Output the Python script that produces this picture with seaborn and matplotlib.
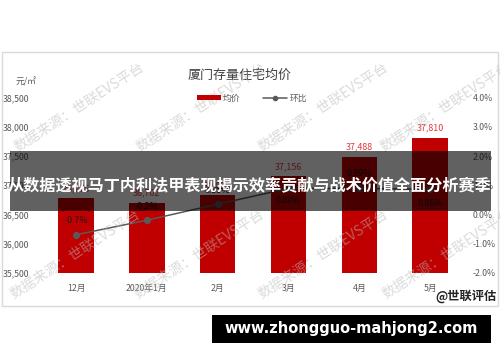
import matplotlib
matplotlib.use("Agg")
import matplotlib.pyplot as plt
from matplotlib.patches import Rectangle, Patch
from matplotlib.lines import Line2D
import seaborn as sns

months = ["12月", "2020年1月", "2月", "3月", "4月", "5月"]
price = [36776, 36702, 36828, 37156, 37488, 37810]
mom = [-0.7, -0.2, 0.35, 0.89, 0.89, 0.86]
left_ticks = [35500, 36000, 36500, 37000, 37500, 38000, 38500]
right_ticks = [-2, -1, 0, 1, 2, 3, 4]
title = "厦门存量住宅均价"
unit = "元/㎡"
legend_labels = ["均价", "环比"]
watermark = "数据来源：世联EVS平台"
banner = "从数据透视马丁内利法甲表现揭示效率贡献与战术价值全面分析赛季"
brand = "@世联评估"
url = "www.zhongguo-mahjong2.com"

sns.set_theme(style="white")
plt.rcParams["font.family"] = ["Noto Sans CJK SC", "DejaVu Sans"]

W, H = 500, 362
def fx(px):
    return px / W
def fy(py):
    return 1 - py / H

BAR = "#c00000"
LINE = "#595959"
TICK = "#595959"

fig = plt.figure(figsize=(5, 3.62), dpi=100)
fig.patch.set_facecolor("white")
ax = fig.add_axes([fx(40.6), fy(272.7), fx(465.6) - fx(40.6), fy(97.7) - fy(272.7)])

sns.barplot(x=months, y=price, ax=ax, color=BAR, width=0.5, saturation=1, edgecolor="none")
ax.set_ylim(35500, 38500)
ax.set_yticks(left_ticks)
ax.set_yticklabels([f"{v:,}" for v in left_ticks])
ax.set_xlim(-0.5, len(months) - 0.5)
for s in ax.spines.values():
    s.set_visible(False)
ax.tick_params(axis="both", length=0, labelsize=6.3, labelcolor=TICK)
ax.tick_params(axis="y", pad=8.3)
ax.tick_params(axis="x", pad=8)
ax.set_xlabel("")
ax.set_ylabel("")
ax.grid(False)

for i, v in enumerate(price):
    ax.annotate(f"{v:,}", (i, v), xytext=(0, 7), textcoords="offset points",
                ha="center", va="center", fontsize=6.4, color="#e0393a")

ax2 = ax.twinx()
sns.pointplot(x=months, y=mom, ax=ax2, color=LINE, markers="o", markersize=4.3,
              linewidth=1.1, errorbar=None)
ax2.set_ylim(-2, 4)
ax2.set_yticks(right_ticks)
ax2.set_yticklabels([f"{v:.1f}%" for v in right_ticks])
ax2.set_xlim(-0.5, len(months) - 0.5)
for s in ax2.spines.values():
    s.set_visible(False)
ax2.tick_params(axis="both", length=0, labelsize=6.3, labelcolor=TICK)
ax2.tick_params(axis="y", pad=5.3)
ax2.set_xlabel("")
ax2.set_ylabel("")
ax2.grid(False)

offsets = [10, 10, 10, -9, 10.5, -10.5]
for i, v in enumerate(mom):
    ax2.annotate(f"{v:g}%", (i, v), xytext=(0, offsets[i]), textcoords="offset points",
                 ha="center", va="center", fontsize=6.4, color="#1a1a1a")

# title, unit, legend
fig.text(fx(240), fy(75.7), title, ha="center", va="center", fontsize=9.4, color="#404040")
fig.text(fx(16), fy(82), unit, ha="left", va="center", fontsize=6.3, color=TICK)
handles = [Patch(facecolor=BAR, edgecolor="none"),
           Line2D([], [], color=LINE, marker="o", markersize=3, lw=1.1)]
fig.legend(handles, legend_labels, loc="center", bbox_to_anchor=(fx(252), fy(98.3)),
           ncol=2, frameon=False, fontsize=6.3, handlelength=2.7, handleheight=0.6,
           handletextpad=0.3, columnspacing=2.6, labelcolor=TICK)

# outer frame
fig.patches.append(Rectangle((fx(2), fy(306)), fx(496), 254 / H, transform=fig.transFigure,
                             fill=False, edgecolor="#d9d9d9", lw=1, zorder=1))

# watermarks
wm_pos = [(18, 152), (140, 152), (262, 152), (384, 152),
          (14, 299), (138, 299), (262, 299), (386, 299)]
for (x, y) in wm_pos:
    fig.text(fx(x), fy(y), watermark, rotation=33, rotation_mode="anchor",
             ha="left", va="baseline", fontsize=10.2, color="#b8b8b8", alpha=0.5, zorder=5)

fig.text(fx(497), fy(296), brand, ha="right", va="center", fontsize=8.8,
         fontweight="bold", color="#222222", zorder=6)

# overlay banner
fig.patches.append(Rectangle((fx(10), fy(210.7)), fx(480.7), (210.7 - 151) / H,
                             transform=fig.transFigure, facecolor="black", alpha=0.62,
                             edgecolor="none", zorder=10))
fig.text(fx(249.5), fy(185), banner, ha="center", va="center", fontsize=11.6,
         fontweight="bold", color="white", zorder=11)

# bottom url box
fig.patches.append(Rectangle((fx(212), fy(343)), fx(279), 28 / H, transform=fig.transFigure,
                             facecolor="black", edgecolor="none", zorder=10))
fig.text(fx(351), fy(329), url, ha="center", va="center", fontsize=10.5,
         fontweight="bold", color="white", family=["DejaVu Sans"], zorder=11)

fig.savefig("out.png", dpi=100)
